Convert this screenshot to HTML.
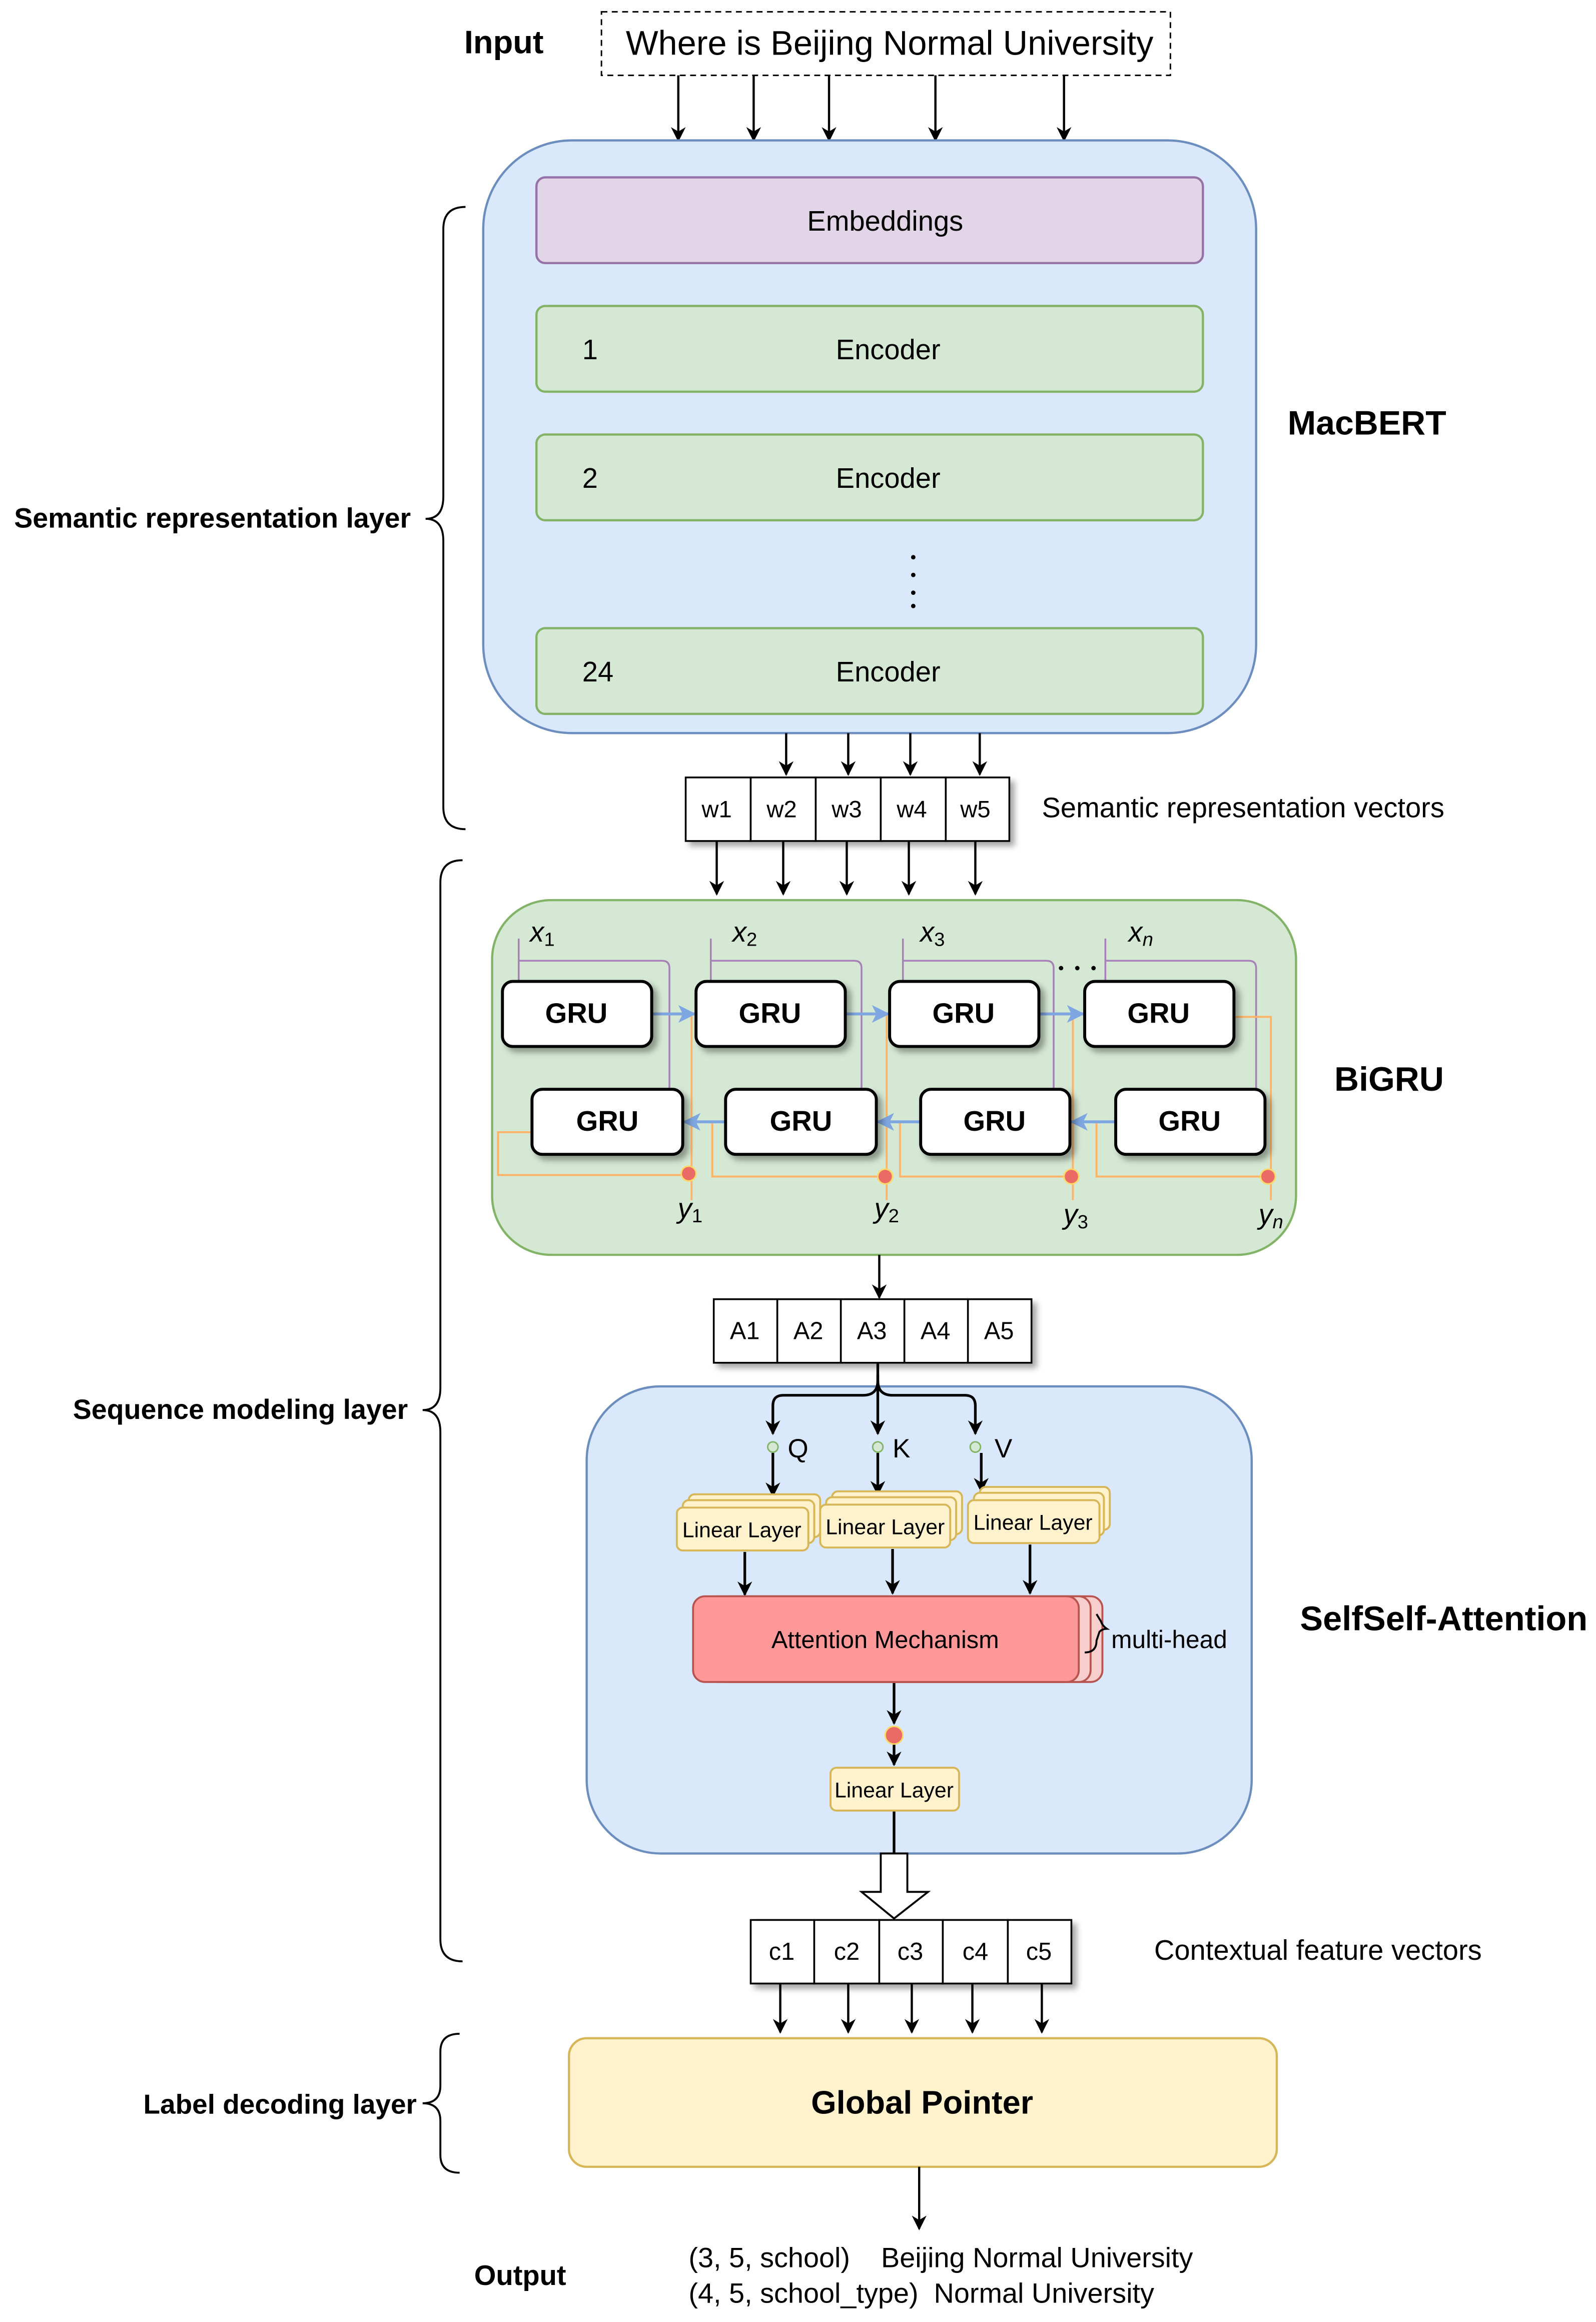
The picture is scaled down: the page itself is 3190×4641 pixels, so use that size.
<!DOCTYPE html>
<html><head><meta charset="utf-8"><style>
html,body{margin:0;padding:0;background:#fff}
svg{display:block}
text{font-family:"Liberation Sans",sans-serif}
.b{font-weight:bold}
.m{font-family:"Liberation Serif",serif;font-style:italic}
</style></head><body>
<svg width="3190" height="4641" viewBox="0 0 1080 1571" preserveAspectRatio="none" xmlns="http://www.w3.org/2000/svg">
<defs>
<marker id="a" markerWidth="10" markerHeight="10" refX="9" refY="5" orient="auto" markerUnits="userSpaceOnUse"><path d="M0,0 L10,5 L0,10 L3,5 z" fill="#000"/></marker>
<marker id="bl" markerWidth="12" markerHeight="12" refX="11" refY="6" orient="auto" markerUnits="userSpaceOnUse"><path d="M0,0 L12,6 L0,12 L3,6 z" fill="#7ea6e0"/></marker>
<filter id="sh" x="-10%" y="-10%" width="130%" height="140%"><feDropShadow dx="3" dy="3" stdDeviation="2" flood-opacity="0.35"/></filter>
</defs>
<rect width="1080" height="1571" fill="#fff"/>

<!-- Input -->
<text x="341" y="36" font-size="22" class="b" text-anchor="middle">Input</text>
<rect x="407" y="8" width="385" height="43" fill="none" stroke="#000" stroke-dasharray="4,3"/>
<text x="602" y="37" font-size="23.2" text-anchor="middle">Where is Beijing Normal University</text>
<g stroke="#000" stroke-width="1.5" marker-end="url(#a)">
<line x1="459" y1="51" x2="459" y2="95"/><line x1="510" y1="51" x2="510" y2="95"/><line x1="561" y1="51" x2="561" y2="95"/><line x1="633" y1="51" x2="633" y2="95"/><line x1="720" y1="51" x2="720" y2="95"/>
</g>

<!-- MacBERT -->
<rect x="327" y="95" width="523" height="401" rx="60" fill="#dae8fc" stroke="#6c8ebf" stroke-width="1.5"/>
<rect x="363" y="120" width="451" height="58" rx="6" fill="#e1d5e7" stroke="#9673a6" stroke-width="1.5"/>
<text x="599" y="156" font-size="19" text-anchor="middle">Embeddings</text>
<g fill="#d5e8d4" stroke="#82b366" stroke-width="1.5">
<rect x="363" y="207" width="451" height="58" rx="6"/><rect x="363" y="294" width="451" height="58" rx="6"/><rect x="363" y="425" width="451" height="58" rx="6"/>
</g>
<g font-size="19"><text x="394" y="243">1</text><text x="394" y="330">2</text><text x="394" y="461">24</text>
<text x="601" y="243" text-anchor="middle">Encoder</text><text x="601" y="330" text-anchor="middle">Encoder</text><text x="601" y="461" text-anchor="middle">Encoder</text></g>
<g fill="#000"><circle cx="618" cy="377" r="1.5"/><circle cx="618" cy="389" r="1.5"/><circle cx="618" cy="401" r="1.5"/><circle cx="618" cy="410" r="1.5"/></g>
<text x="925" y="294" font-size="23" class="b" text-anchor="middle">MacBERT</text>

<!-- braces -->
<g fill="none" stroke="#000" stroke-width="1.3">
<path d="M315,140 Q300,140 300,155 L300,336 Q300,351 288,351 Q300,351 300,366 L300,546 Q300,561 315,561"/>
<path d="M313,582 Q298,582 298,597 L298,939 Q298,954 286,954 Q298,954 298,969 L298,1312 Q298,1327 313,1327"/>
<path d="M311,1376 Q298,1376 298,1388 L298,1411 Q298,1423 286,1423 Q298,1423 298,1435 L298,1458 Q298,1470 311,1470"/>
</g>
<text x="278" y="357" font-size="18.8" class="b" text-anchor="end">Semantic representation layer</text>
<text x="276" y="960" font-size="18.8" class="b" text-anchor="end">Sequence modeling layer</text>
<text x="282" y="1430" font-size="18.6" class="b" text-anchor="end">Label decoding layer</text>

<g stroke="#000" stroke-width="1.5" marker-end="url(#a)">
<line x1="532" y1="496" x2="532" y2="524"/><line x1="574" y1="496" x2="574" y2="524"/><line x1="616" y1="496" x2="616" y2="524"/><line x1="663" y1="496" x2="663" y2="524"/>
</g>
<!-- w cells -->
<g filter="url(#sh)" fill="#fff" stroke="#000" stroke-width="1.2">
<rect x="464" y="526" width="44" height="43"/><rect x="508" y="526" width="44" height="43"/><rect x="552" y="526" width="44" height="43"/><rect x="596" y="526" width="44" height="43"/><rect x="640" y="526" width="43" height="43"/>
</g>
<g font-size="16" text-anchor="middle"><text x="485" y="553">w1</text><text x="529" y="553">w2</text><text x="573" y="553">w3</text><text x="617" y="553">w4</text><text x="660" y="553">w5</text></g>
<text x="705" y="553" font-size="19">Semantic representation vectors</text>
<g stroke="#000" stroke-width="1.5" marker-end="url(#a)">
<line x1="485" y1="569" x2="485" y2="605"/><line x1="530" y1="569" x2="530" y2="605"/><line x1="573" y1="569" x2="573" y2="605"/><line x1="615" y1="569" x2="615" y2="605"/><line x1="660" y1="569" x2="660" y2="605"/>
</g>

<!-- BiGRU -->
<rect x="333" y="609" width="544" height="240" rx="40" fill="#d5e8d4" stroke="#82b366" stroke-width="1.5"/>
<g fill="none" stroke="#a680b8" stroke-width="1.2">
<path d="M351,635 V664 M351,650 H448 Q453,650 453,655 V737"/>
<path d="M481,635 V664 M481,650 H578 Q583,650 583,655 V737"/>
<path d="M611,635 V664 M611,650 H708 Q713,650 713,655 V737"/>
<path d="M748,635 V664 M748,650 H845 Q850,650 850,655 V737"/>
</g>
<g fill="none" stroke="#ffb366" stroke-width="1.3">
<path d="M468,686 V812"/><path d="M600,686 V812"/><path d="M726,686 V812"/>
<path d="M835,688 H860 V812"/>
<path d="M360,766 H337 V795 H468"/>
<path d="M482,759 V796 H600"/><path d="M609,759 V796 H726"/><path d="M742,759 V796 H860"/>
</g>
<g stroke="#7ea6e0" stroke-width="2" marker-end="url(#bl)">
<line x1="441" y1="686" x2="470" y2="686"/><line x1="572" y1="686" x2="601" y2="686"/><line x1="703" y1="686" x2="733" y2="686"/>
<line x1="491" y1="759" x2="463" y2="759"/><line x1="623" y1="759" x2="594" y2="759"/><line x1="755" y1="759" x2="725" y2="759"/>
</g>
<g filter="url(#sh)" fill="#fff" stroke="#000" stroke-width="2">
<rect x="340" y="664" width="101" height="44" rx="7"/><rect x="471" y="664" width="101" height="44" rx="7"/><rect x="602" y="664" width="101" height="44" rx="7"/><rect x="734" y="664" width="101" height="44" rx="7"/>
<rect x="360" y="737" width="102" height="44" rx="7"/><rect x="491" y="737" width="102" height="44" rx="7"/><rect x="623" y="737" width="101" height="44" rx="7"/><rect x="755" y="737" width="101" height="44" rx="7"/>
</g>
<g font-size="19" class="b" text-anchor="middle">
<text x="390" y="692">GRU</text><text x="521" y="692">GRU</text><text x="652" y="692">GRU</text><text x="784" y="692">GRU</text>
<text x="411" y="765">GRU</text><text x="542" y="765">GRU</text><text x="673" y="765">GRU</text><text x="805" y="765">GRU</text>
</g>
<g fill="#ea6b66" stroke="#ffd966" stroke-width="1">
<circle cx="466" cy="794" r="5"/><circle cx="599" cy="796" r="5"/><circle cx="725" cy="796" r="5"/><circle cx="858" cy="796" r="5"/>
</g>
<g font-size="19" class="m" text-anchor="middle">
<text x="367" y="637">x<tspan font-size="13" dy="3" font-style="normal">1</tspan></text>
<text x="504" y="637">x<tspan font-size="13" dy="3" font-style="normal">2</tspan></text>
<text x="631" y="637">x<tspan font-size="13" dy="3" font-style="normal">3</tspan></text>
<text x="772" y="637">x<tspan font-size="13" dy="3">n</tspan></text>
<text x="467" y="824">y<tspan font-size="13" dy="3" font-style="normal">1</tspan></text>
<text x="600" y="824">y<tspan font-size="13" dy="3" font-style="normal">2</tspan></text>
<text x="728" y="828">y<tspan font-size="13" dy="3" font-style="normal">3</tspan></text>
<text x="860" y="828">y<tspan font-size="13" dy="3">n</tspan></text>
</g>
<g fill="#000"><circle cx="718" cy="655" r="1.5"/><circle cx="729" cy="655" r="1.5"/><circle cx="740" cy="655" r="1.5"/></g>
<text x="940" y="738" font-size="23" class="b" text-anchor="middle">BiGRU</text>

<line x1="595" y1="849" x2="595" y2="878" stroke="#000" stroke-width="1.5" marker-end="url(#a)"/>
<g filter="url(#sh)" fill="#fff" stroke="#000" stroke-width="1.2">
<rect x="483" y="879" width="43" height="43"/><rect x="526" y="879" width="43" height="43"/><rect x="569" y="879" width="43" height="43"/><rect x="612" y="879" width="43" height="43"/><rect x="655" y="879" width="43" height="43"/>
</g>
<g font-size="16.5" text-anchor="middle"><text x="504" y="906">A1</text><text x="547" y="906">A2</text><text x="590" y="906">A3</text><text x="633" y="906">A4</text><text x="676" y="906">A5</text></g>

<!-- Self attention -->
<rect x="397" y="938" width="450" height="316" rx="50" fill="#dae8fc" stroke="#6c8ebf" stroke-width="1.5"/>
<g fill="none" stroke="#000" stroke-width="1.8">
<path d="M594,922 V934 Q594,944 584,944 H530 Q523,944 523,951 V970" marker-end="url(#a)"/>
<path d="M594,930 V970" marker-end="url(#a)"/>
<path d="M594,934 Q594,944 604,944 H653 Q660,944 660,951 V970" marker-end="url(#a)"/>
<path d="M523,983 V1012" marker-end="url(#a)"/><path d="M594,983 V1011" marker-end="url(#a)"/><path d="M664,983 V1009" marker-end="url(#a)"/>
<path d="M504,1050 V1079" marker-end="url(#a)"/><path d="M604,1048 V1078" marker-end="url(#a)"/><path d="M697,1045 V1078" marker-end="url(#a)"/>
<path d="M605,1138 V1166" marker-end="url(#a)"/><path d="M605,1180 V1194" marker-end="url(#a)"/>
<path d="M605,1225 V1254"/>
</g>
<g fill="#d5e8d4" stroke="#82b366"><circle cx="523" cy="979" r="3.5"/><circle cx="594" cy="979" r="3.5"/><circle cx="660" cy="979" r="3.5"/></g>
<g font-size="18"><text x="533" y="986">Q</text><text x="604" y="986">K</text><text x="673" y="986">V</text></g>
<g fill="#fff2cc" stroke="#d6b656" stroke-width="1.3">
<rect x="466" y="1011" width="89" height="29" rx="4"/><rect x="462" y="1015" width="89" height="29" rx="4"/><rect x="458" y="1020" width="89" height="29" rx="4"/>
<rect x="563" y="1009" width="88" height="29" rx="4"/><rect x="559" y="1013" width="88" height="29" rx="4"/><rect x="555" y="1018" width="88" height="29" rx="4"/>
<rect x="663" y="1006" width="88" height="29" rx="4"/><rect x="659" y="1010" width="88" height="29" rx="4"/><rect x="655" y="1015" width="89" height="29" rx="4"/>
<rect x="562" y="1196" width="87" height="29" rx="4"/>
</g>
<g font-size="14.5" text-anchor="middle"><text x="502" y="1040">Linear Layer</text><text x="599" y="1038">Linear Layer</text><text x="699" y="1035">Linear Layer</text><text x="605" y="1216">Linear Layer</text></g>
<g stroke="#b85450" stroke-width="1.3">
<rect x="485" y="1080" width="261" height="58" rx="8" fill="#f8cecc"/>
<rect x="477" y="1080" width="261" height="58" rx="8" fill="#f8cecc"/>
<rect x="469" y="1080" width="261" height="58" rx="8" fill="#ff9999"/>
</g>
<text x="599" y="1115" font-size="16.5" text-anchor="middle">Attention Mechanism</text>
<path d="M734,1118 Q742,1118 742,1110 L744,1104 Q746,1102 749,1102 Q746,1100 745,1097 L742,1092" fill="none" stroke="#000" stroke-width="1.3"/>
<text x="752" y="1115" font-size="16.8">multi-head</text>
<circle cx="605" cy="1174" r="6" fill="#ea6b66" stroke="#ffd966"/>
<path d="M596,1254 H614 V1280 H628 L605,1298 L583,1280 H596 Z" fill="#fff" stroke="#000" stroke-width="1.3"/>
<text x="977" y="1103" font-size="23.2" class="b" text-anchor="middle">SelfSelf-Attention</text>

<!-- c cells -->
<g filter="url(#sh)" fill="#fff" stroke="#000" stroke-width="1.2">
<rect x="508" y="1299" width="43" height="43"/><rect x="551" y="1299" width="44" height="43"/><rect x="595" y="1299" width="43" height="43"/><rect x="638" y="1299" width="44" height="43"/><rect x="682" y="1299" width="43" height="43"/>
</g>
<g font-size="16.5" text-anchor="middle"><text x="529" y="1326">c1</text><text x="573" y="1326">c2</text><text x="616" y="1326">c3</text><text x="660" y="1326">c4</text><text x="703" y="1326">c5</text></g>
<text x="781" y="1326" font-size="19">Contextual feature vectors</text>
<g stroke="#000" stroke-width="1.5" marker-end="url(#a)">
<line x1="528" y1="1342" x2="528" y2="1375"/><line x1="574" y1="1342" x2="574" y2="1375"/><line x1="617" y1="1342" x2="617" y2="1375"/><line x1="658" y1="1342" x2="658" y2="1375"/><line x1="705" y1="1342" x2="705" y2="1375"/>
</g>
<rect x="385" y="1379" width="479" height="87" rx="12" fill="#fff2cc" stroke="#d6b656" stroke-width="1.5"/>
<text x="624" y="1430" font-size="22" class="b" text-anchor="middle">Global Pointer</text>
<line x1="622" y1="1466" x2="622" y2="1508" stroke="#000" stroke-width="1.5" marker-end="url(#a)"/>
<text x="352" y="1546" font-size="19" class="b" text-anchor="middle">Output</text>
<text x="466" y="1534" font-size="18.9" xml:space="preserve">(3, 5, school)    Beijing Normal University</text>
<text x="466" y="1558" font-size="18.9" xml:space="preserve">(4, 5, school_type)  Normal University</text>
</svg>
</body></html>
